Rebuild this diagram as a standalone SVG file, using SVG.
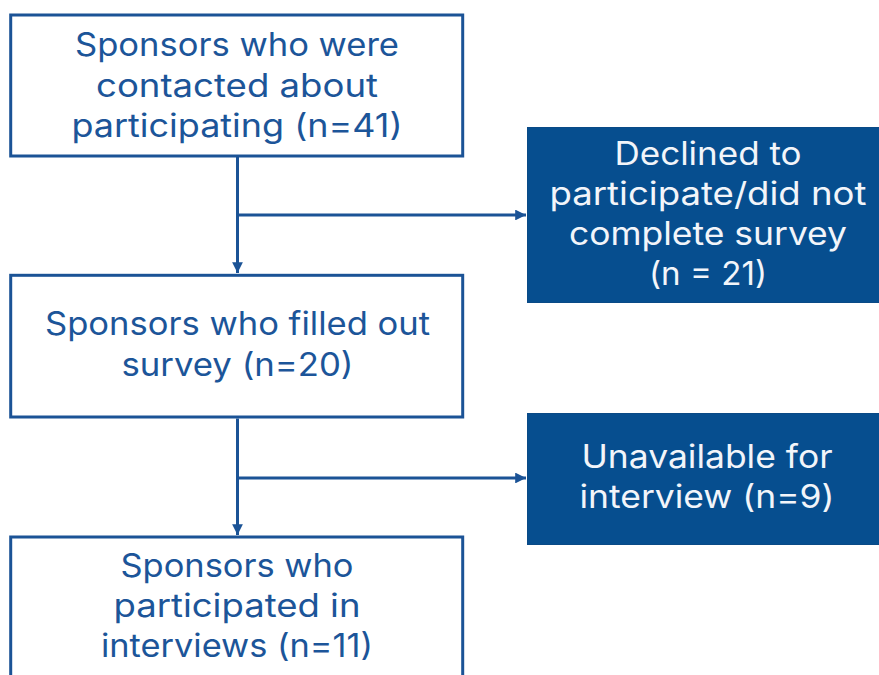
<svg xmlns="http://www.w3.org/2000/svg" width="879" height="675" viewBox="0 0 879 675">
  <style>
    .box { fill: #ffffff; stroke: #1b5396; stroke-width: 3; }
    .dark { fill: #064e8f; stroke: #0a4a86; stroke-width: 1; }
    .lbl { font-family: Inter, "Open Sans", "Liberation Sans", sans-serif; font-size: 32px; text-anchor: middle; }
    .lbl-d { fill: #1c5599; }
    .lbl-l { fill: #f2f5fa; }
    .conn { fill: none; stroke: #1b5396; stroke-width: 3; }
  </style>
  <defs>
    <marker id="arrow" viewBox="0 0 10 10" refX="10" refY="5" markerWidth="3.6" markerHeight="3.6" markerUnits="strokeWidth" orient="auto">
      <path d="M0,0 L10,5 L0,10 Z" fill="#1b5396"/>
    </marker>
  </defs>
  <rect width="879" height="675" fill="#ffffff"/>

  <g id="connectors">
    <path class="conn" d="M237.5,157 V273" marker-end="url(#arrow)"/>
    <path class="conn" d="M237.5,215 H526" marker-end="url(#arrow)"/>
    <path class="conn" d="M237.5,418.5 V535" marker-end="url(#arrow)"/>
    <path class="conn" d="M237.5,478 H526" marker-end="url(#arrow)"/>
  </g>

  <g id="contacted">
    <rect class="box" x="10.7" y="15" width="452" height="141"/>
    <text class="lbl lbl-d" x="237" y="56" textLength="324" lengthAdjust="spacingAndGlyphs">Sponsors who were</text>
    <text class="lbl lbl-d" x="237" y="97" textLength="282" lengthAdjust="spacingAndGlyphs">contacted about</text>
    <text class="lbl lbl-d" x="237" y="137" textLength="331" lengthAdjust="spacingAndGlyphs">participating (n=41)</text>
  </g>

  <g id="declined">
    <rect class="dark" x="527.5" y="127.5" width="360" height="175"/>
    <text class="lbl lbl-l" x="708" y="165" textLength="187" lengthAdjust="spacingAndGlyphs">Declined to</text>
    <text class="lbl lbl-l" x="708" y="205" textLength="317" lengthAdjust="spacingAndGlyphs">participate/did not</text>
    <text class="lbl lbl-l" x="708" y="245" textLength="278" lengthAdjust="spacingAndGlyphs">complete survey</text>
    <text class="lbl lbl-l" x="708" y="285" textLength="118" lengthAdjust="spacingAndGlyphs">(n = 21)</text>
  </g>

  <g id="surveyed">
    <rect class="box" x="10.7" y="275.3" width="452" height="141.7"/>
    <text class="lbl lbl-d" x="237.5" y="335" textLength="385" lengthAdjust="spacingAndGlyphs">Sponsors who filled out</text>
    <text class="lbl lbl-d" x="237.5" y="376" textLength="232" lengthAdjust="spacingAndGlyphs">survey (n=20)</text>
  </g>

  <g id="unavailable">
    <rect class="dark" x="527.5" y="413.5" width="360" height="131"/>
    <text class="lbl lbl-l" x="707" y="468" textLength="251" lengthAdjust="spacingAndGlyphs">Unavailable for</text>
    <text class="lbl lbl-l" x="707" y="508" textLength="255" lengthAdjust="spacingAndGlyphs">interview (n=9)</text>
  </g>

  <g id="interviewed">
    <rect class="box" x="10.7" y="537" width="452" height="160"/>
    <text class="lbl lbl-d" x="237" y="577" textLength="233" lengthAdjust="spacingAndGlyphs">Sponsors who</text>
    <text class="lbl lbl-d" x="237" y="617" textLength="247" lengthAdjust="spacingAndGlyphs">participated in</text>
    <text class="lbl lbl-d" x="237" y="657" textLength="272" lengthAdjust="spacingAndGlyphs">interviews (n=11)</text>
  </g>
</svg>
